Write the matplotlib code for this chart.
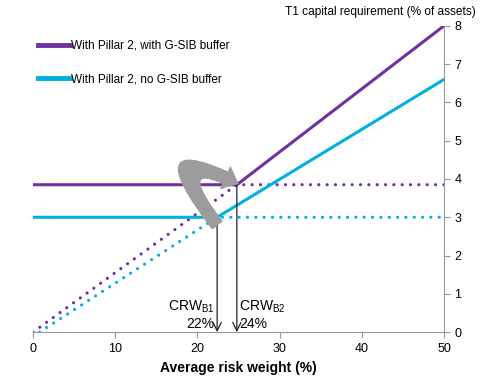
import matplotlib.pyplot as plt
from matplotlib.patches import FancyArrowPatch
from matplotlib.path import Path

plt.rcParams["font.family"] = ["Liberation Sans", "DejaVu Sans"]

# solid lines (max of floor and slope)
purple_x = [0, 24.8, 50]
purple_y = [3.85, 3.85, 8.0]
cyan_x = [0, 22.4, 50]
cyan_y = [3.0, 3.0, 6.6]

# dotted extensions
purple_dot_x = [0, 24.8, 50]
purple_dot_y = [0, 3.85, 3.85]
cyan_dot_x = [0.8, 22.4, 50]
cyan_dot_y = [0, 3.0, 3.0]

crw_b1 = 22.4
crw_b2 = 24.8

purple = "#7030a0"
cyan = "#00b0e0"

fig = plt.figure(figsize=(5, 3.8), dpi=100)
ax = fig.add_axes([0.066, 0.126, 0.822, 0.806])

dots = (0, (0.01, 2.6))
ax.plot(purple_dot_x, purple_dot_y, color=purple, lw=2.3, ls=dots,
        dash_capstyle="round")
ax.plot(cyan_dot_x, cyan_dot_y, color=cyan, lw=2.3, ls=dots,
        dash_capstyle="round")
ax.plot(purple_x, purple_y, color=purple, lw=2.2,
        label="With Pillar 2, with G-SIB buffer")
ax.plot(cyan_x, cyan_y, color=cyan, lw=2.2,
        label="With Pillar 2, no G-SIB buffer")

# vertical arrows down to the x axis
for xv, yv in [(crw_b1, cyan_y[1]), (crw_b2, purple_y[1])]:
    ax.annotate("", xy=(xv, 0), xytext=(xv, yv),
                arrowprops=dict(arrowstyle="->", color="#222222", lw=0.9,
                                mutation_scale=15, shrinkA=0, shrinkB=0))

ax.text(crw_b1 - 0.3, 0.02, "CRW$_{\\mathregular{B1}}$\n22%", ha="right",
        va="bottom", fontsize=10, linespacing=1.25, multialignment="right")
ax.text(crw_b2 + 0.3, 0.02, "CRW$_{\\mathregular{B2}}$\n24%", ha="left",
        va="bottom", fontsize=10, linespacing=1.25, multialignment="left")

# big curved grey arrow, from the cyan kink round to the purple kink
curl_path = Path([(22.4, 2.8), (14.5, 5.0), (24.9, 3.88)],
                 [Path.MOVETO, Path.CURVE3, Path.CURVE3])
curl = FancyArrowPatch(path=curl_path,
                       arrowstyle="simple,head_width=1.05,head_length=0.6,tail_width=0.55",
                       mutation_scale=16, color="#9c9c9c", zorder=5)
ax.add_patch(curl)

ax.set_xlim(0, 50)
ax.set_ylim(0, 8)
ax.set_xticks([0, 10, 20, 30, 40, 50])
ax.set_yticks(range(0, 9))
ax.yaxis.tick_right()
for s in ["top", "left"]:
    ax.spines[s].set_visible(False)
for s in ["bottom", "right"]:
    ax.spines[s].set_color("#999999")
ax.tick_params(axis="both", colors="#999999", labelcolor="black", labelsize=9,
               length=4, direction="out")
ax.set_xlabel("Average risk weight (%)", fontsize=10, fontweight="bold", labelpad=5)
fig.text(0.952, 0.985, "T1 capital requirement (% of assets)", ha="right",
         va="top", fontsize=8.6)

leg = ax.legend(loc="upper left", bbox_to_anchor=(0.0, 0.97), frameon=False,
                fontsize=8.5, handlelength=2.7, handletextpad=0.1,
                labelspacing=1.85, borderaxespad=0)
for h in leg.get_lines():
    h.set_linewidth(3.5)

fig.savefig("out.png", dpi=100)
